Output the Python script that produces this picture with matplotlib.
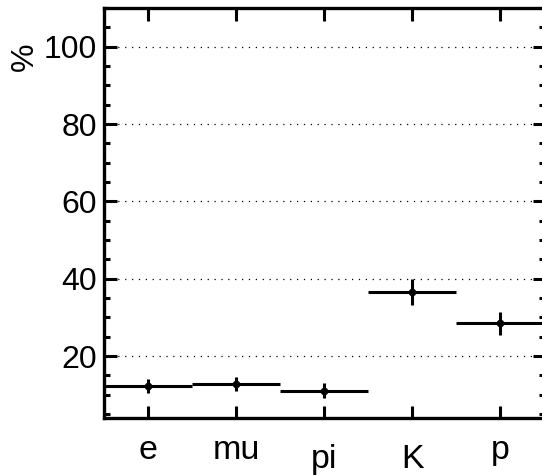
import matplotlib
matplotlib.use("Agg")
import matplotlib.pyplot as plt
from matplotlib.ticker import MultipleLocator, FixedLocator
from matplotlib.transforms import ScaledTranslation
import numpy as np

plt.rcParams['font.family'] = ['Liberation Sans', 'DejaVu Sans']

categories = ["e", "mu", "pi", "K", "p"]
values = [12.2, 12.8, 11.1, 36.6, 28.5]
errors = [1.8, 1.9, 1.9, 3.4, 3.0]
ylabel = "%"

x = np.arange(len(categories))

W, H = 542, 476
fig = plt.figure(figsize=(W / 100, H / 100), dpi=100)
ax = fig.add_axes([104 / W, 1 - 418 / H, 440.5 / W, 410 / H])

ax.errorbar(x, values, yerr=errors, xerr=0.5, fmt='o', color='black',
            ms=4.5, elinewidth=2.2, capsize=0, zorder=3)

ax.set_xlim(-0.5, 4.5)
ax.set_ylim(4, 110)
ax.xaxis.set_major_locator(FixedLocator(x))
ax.set_xticklabels(categories)
ax.set_yticks([20, 40, 60, 80, 100])
ax.yaxis.set_minor_locator(MultipleLocator(5))

for yv in [20, 40, 60, 80, 100]:
    ax.axhline(yv, color='black', lw=0.9, ls=(0, (1, 4.5)), zorder=1)

ax.tick_params(which='both', direction='in', top=True, right=True,
               width=2.2, color='black')
ax.tick_params(which='major', length=9)
ax.tick_params(which='minor', length=4.5)
ax.tick_params(axis='x', pad=12, labelsize=24.5)
ax.tick_params(axis='y', pad=5, labelsize=23)
for s in ax.spines.values():
    s.set_linewidth(2.4)

lab = ax.set_ylabel(ylabel, fontsize=23, rotation=90)
lab.set_va('center')
lab.set_ha('center')
ax.yaxis.set_label_coords(-0.18, 0.88)

fig.canvas.draw()
# slight vertical drop of some category labels as in the original
drop_px = {"pi": 9, "K": 9}
for t in ax.get_xticklabels():
    d = drop_px.get(t.get_text(), 0)
    if d:
        t.set_transform(t.get_transform() + ScaledTranslation(0, -d / 100, fig.dpi_scale_trans))

fig.savefig("out.png", dpi=100)
